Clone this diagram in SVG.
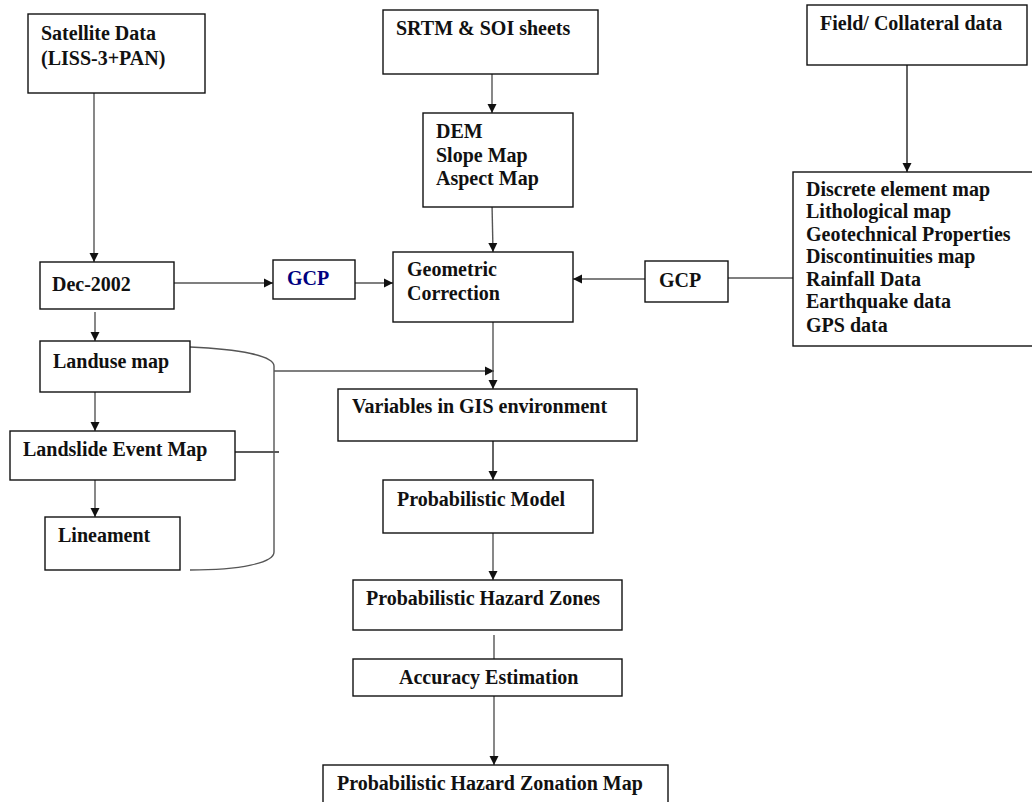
<svg xmlns="http://www.w3.org/2000/svg" width="1032" height="802" viewBox="0 0 1032 802">
<style>
.box{fill:#fff;stroke:#111;stroke-width:1.4}
.t{font-family:"Liberation Serif","Times New Roman",serif;font-weight:bold;font-size:20px;fill:#111}
.navy{fill:#000080}
.c{fill:none;stroke:#555;stroke-width:1.4}
.cd{fill:none;stroke:#222;stroke-width:1.4}
</style>
<defs>
<marker id="ah" markerWidth="10" markerHeight="10" refX="9" refY="5" orient="auto" markerUnits="userSpaceOnUse">
<path d="M0,0.5 L9,5 L0,9.5 Z" fill="#111"/>
</marker>
</defs>
<rect width="1032" height="802" fill="#fff"/>
<g id="connectors">
<line class="c" x1="94" y1="93" x2="94" y2="262" marker-end="url(#ah)"/>
<line class="c" x1="492" y1="74" x2="492" y2="113" marker-end="url(#ah)"/>
<line class="c" x1="492" y1="203" x2="493" y2="252" marker-end="url(#ah)"/>
<line class="cd" x1="907" y1="65" x2="907" y2="172" marker-end="url(#ah)"/>
<line class="c" x1="174" y1="283" x2="273" y2="283" marker-end="url(#ah)"/>
<line class="c" x1="355" y1="283" x2="393" y2="283" marker-end="url(#ah)"/>
<line class="c" x1="645" y1="279" x2="573" y2="279" marker-end="url(#ah)"/>
<line class="c" x1="728" y1="278" x2="793" y2="278"/>
<line class="c" x1="95" y1="312" x2="95" y2="341" marker-end="url(#ah)"/>
<line class="c" x1="95" y1="392" x2="95" y2="431" marker-end="url(#ah)"/>
<line class="c" x1="95" y1="480" x2="95" y2="517" marker-end="url(#ah)"/>
<line class="cd" x1="235" y1="452" x2="279" y2="452"/>
<path class="c" d="M190,347 C240,349 274,356 274,366 L274,552 C274,563 240,570 190,570"/>
<line class="c" x1="274" y1="371" x2="494" y2="371" marker-end="url(#ah)"/>
<line class="c" x1="493" y1="312" x2="493" y2="389" marker-end="url(#ah)"/>
<line class="cd" x1="493" y1="441" x2="493" y2="480" marker-end="url(#ah)"/>
<line class="c" x1="493" y1="532" x2="493" y2="580" marker-end="url(#ah)"/>
<line class="c" x1="494" y1="635" x2="494" y2="659"/>
<line class="c" x1="494" y1="696" x2="494" y2="765" marker-end="url(#ah)"/>
</g>
<g id="satellite"><rect class="box" x="28" y="14" width="177" height="79"/>
<text class="t" x="41" y="40">Satellite Data</text><text class="t" x="41" y="65">(LISS-3+PAN)</text></g>
<g id="srtm"><rect class="box" x="383" y="10" width="215" height="64"/>
<text class="t" x="396" y="35">SRTM &amp; SOI sheets</text></g>
<g id="field"><rect class="box" x="807" y="5" width="220" height="60"/>
<text class="t" x="820" y="30">Field/ Collateral data</text></g>
<g id="dem"><rect class="box" x="423" y="113" width="150" height="94"/>
<text class="t" x="436" y="138">DEM</text><text class="t" x="436" y="162">Slope Map</text><text class="t" x="436" y="185">Aspect Map</text></g>
<g id="fielddata"><rect class="box" x="793" y="172" width="245" height="174"/>
<text class="t" x="806" y="196">Discrete element map</text>
<text class="t" x="806" y="218">Lithological map</text>
<text class="t" x="806" y="241">Geotechnical Properties</text>
<text class="t" x="806" y="263">Discontinuities map</text>
<text class="t" x="806" y="286">Rainfall Data</text>
<text class="t" x="806" y="308">Earthquake data</text>
<text class="t" x="806" y="332">GPS data</text></g>
<g id="dec2002"><rect class="box" x="40" y="262" width="134" height="47"/>
<text class="t" x="52" y="291">Dec-2002</text></g>
<g id="gcp-left"><rect class="box" x="273" y="260" width="82" height="39"/>
<text class="t navy" x="287" y="285">GCP</text></g>
<g id="geometric"><rect class="box" x="393" y="252" width="180" height="70"/>
<text class="t" x="407" y="276">Geometric</text><text class="t" x="407" y="300">Correction</text></g>
<g id="gcp-right"><rect class="box" x="645" y="261" width="83" height="41"/>
<text class="t" x="659" y="287">GCP</text></g>
<g id="landuse"><rect class="box" x="40" y="341" width="150" height="51"/>
<text class="t" x="53" y="368">Landuse map</text></g>
<g id="landslide"><rect class="box" x="10" y="431" width="225" height="49"/>
<text class="t" x="23" y="456">Landslide Event Map</text></g>
<g id="lineament"><rect class="box" x="45" y="517" width="135" height="53"/>
<text class="t" x="58" y="542">Lineament</text></g>
<g id="variables"><rect class="box" x="338" y="389" width="299" height="52"/>
<text class="t" x="352" y="413">Variables in GIS environment</text></g>
<g id="model"><rect class="box" x="383" y="480" width="210" height="53"/>
<text class="t" x="397" y="506">Probabilistic Model</text></g>
<g id="zones"><rect class="box" x="353" y="580" width="269" height="50"/>
<text class="t" x="366" y="605">Probabilistic Hazard Zones</text></g>
<g id="accuracy"><rect class="box" x="353" y="659" width="269" height="37"/>
<text class="t" x="399" y="684">Accuracy Estimation</text></g>
<g id="zonation"><rect class="box" x="323" y="765" width="345" height="60"/>
<text class="t" x="337" y="790">Probabilistic Hazard Zonation Map</text></g>
</svg>
